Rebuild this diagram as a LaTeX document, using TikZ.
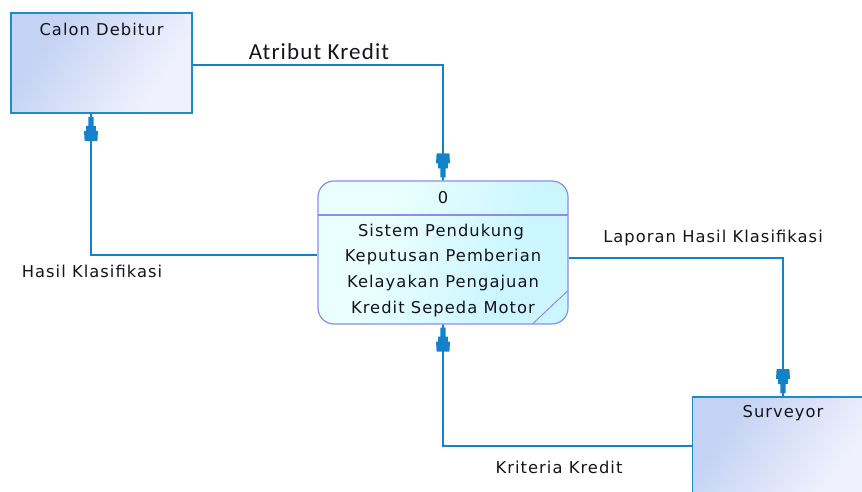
\documentclass[tikz,border=0pt]{standalone}
\usepackage{fontspec}
\usetikzlibrary{arrows.meta,calc}
\newfontfamily\dfdfont[LetterSpace=6.5]{DejaVu Sans}
\newfontfamily\flowfont[LetterSpace=5]{Carlito}

\definecolor{flowblue}{RGB}{20,130,200}
\definecolor{entityedge}{RGB}{28,140,204}
\definecolor{entitytop}{RGB}{196,211,244}
\definecolor{entitybot}{RGB}{240,241,253}
\definecolor{procedge}{RGB}{140,140,240}
\definecolor{proctop}{RGB}{234,255,255}
\definecolor{procbot}{RGB}{204,246,255}
\definecolor{txt}{RGB}{20,20,30}

% diagonal fills for the entities and the process
\pgfdeclarehorizontalshading{entityshade}{100bp}{
  color(0bp)=(entitytop); color(30bp)=(entitytop);
  color(70bp)=(entitybot); color(100bp)=(entitybot)}
\pgfdeclarehorizontalshading{procshade}{100bp}{
  color(0bp)=(proctop); color(35bp)=(proctop);
  color(65bp)=(procbot); color(100bp)=(procbot)}

% stepped data-flow arrowhead: thin stem, narrow neck, wide back block
\pgfdeclarearrow{
  name=FlowTip,
  setup code={
    \pgfarrowssettipend{0pt}
    \pgfarrowssetlineend{-18pt}
    \pgfarrowssetbackend{-27pt}
    \pgfarrowssetvisualbackend{-27pt}
    \pgfarrowshullpoint{0pt}{1pt}
    \pgfarrowshullpoint{0pt}{-1pt}
    \pgfarrowshullpoint{-27pt}{7pt}
    \pgfarrowshullpoint{-27pt}{-7pt}
  },
  drawing code={
    \pgfpathmoveto{\pgfqpoint{0pt}{1pt}}
    \pgfpathlineto{\pgfqpoint{-3pt}{1pt}}
    \pgfpathlineto{\pgfqpoint{-3pt}{2.7pt}}
    \pgfpathlineto{\pgfqpoint{-12pt}{2.7pt}}
    \pgfpathlineto{\pgfqpoint{-12pt}{4.8pt}}
    \pgfpathlineto{\pgfqpoint{-17pt}{4.8pt}}
    \pgfpathlineto{\pgfqpoint{-17pt}{7pt}}
    \pgfpathlineto{\pgfqpoint{-27pt}{6.4pt}}
    \pgfpathlineto{\pgfqpoint{-27pt}{-6.4pt}}
    \pgfpathlineto{\pgfqpoint{-17pt}{-7pt}}
    \pgfpathlineto{\pgfqpoint{-17pt}{-4.8pt}}
    \pgfpathlineto{\pgfqpoint{-12pt}{-4.8pt}}
    \pgfpathlineto{\pgfqpoint{-12pt}{-2.7pt}}
    \pgfpathlineto{\pgfqpoint{-3pt}{-2.7pt}}
    \pgfpathlineto{\pgfqpoint{-3pt}{-1pt}}
    \pgfpathlineto{\pgfqpoint{0pt}{-1pt}}
    \pgfpathclose
    \pgfusepathqfill
  },
}

\tikzset{
  entity/.style={draw=entityedge, line width=1.6pt, minimum width=181pt,
    minimum height=100pt, inner sep=0pt,
    shading=entityshade, shading angle=-35},
  process/.style={draw=procedge, line width=1.2pt, rounded corners=16pt,
    minimum width=250pt, minimum height=143pt, inner sep=0pt,
    shading=procshade, shading angle=-20},
  lbl/.style={font=\dfdfont\fontsize{16.3}{19}\selectfont, text=txt, inner sep=0pt},
  flowlbl/.style={font=\flowfont\fontsize{23}{26}\selectfont, text=txt, inner sep=0pt},
  flow/.style={color=flowblue, line width=1.8pt, -{FlowTip}},
}

\begin{document}
\begin{tikzpicture}[x=1pt, y=-1pt]
  \useasboundingbox (0,0) rectangle (862,492);
  \clip (0,0) rectangle (862,492);

  % external entities
  \node[entity] (cd) at (101.5,63) {};
  \node[lbl] (cdt) at ([yshift=-17pt]cd.north) {Calon Debitur};

  \node[entity] (sv) at (783,447) {};
  \node[lbl] (svt) at ([yshift=-17pt]sv.north) {Surveyor};

  % process
  \node[process] (proc) at (443,252.5) {};
  \draw[procedge, line width=1.2pt] (318,215) -- (568,215);
  \draw[procedge, line width=1pt] (533,323.5) -- (567.5,291);
  \node[lbl] (pnum) at (443,198) {0};
  \node[lbl] (p1) at (441,232) {Sistem Pendukung};
  \node[lbl] (p2) at (443,257.5) {Keputusan Pemberian};
  \node[lbl] (p3) at (443,283) {Kelayakan Pengajuan};
  \node[lbl] (p4) at (443,309) {Kredit Sepeda Motor};

  % data flows
  \draw[flow] ([yshift=-2pt]cd.east) -| (proc.north);
  \draw[flow] ([yshift=-2.5pt]proc.west) -| ([xshift=-10.5pt]cd.south);
  \draw[flow] ([yshift=-5.5pt]proc.east) -| (sv.north);
  \draw[flow] ([yshift=1pt]sv.west) -| (proc.south);

  % flow labels
  \node[flowlbl] (l1) at (319,52) {Atribut Kredit};
  \node[lbl] (l2) at (92,271) {Hasil Klasifikasi};
  \node[lbl] (l3) at (713,238) {Laporan Hasil Klasifikasi};
  \node[lbl] (l4) at (559,467) {Kriteria Kredit};
\end{tikzpicture}
\end{document}
